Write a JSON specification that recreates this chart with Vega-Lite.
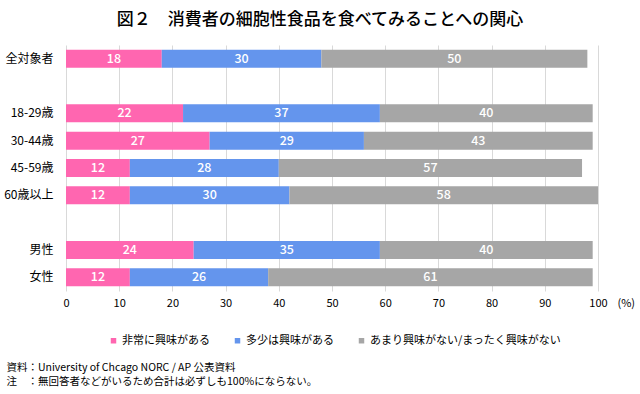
{
  "$schema": "https://vega.github.io/schema/vega-lite/v6.json",
  "width": 532,
  "height": 246,
  "autosize": {"type": "none"},
  "padding": {"left": 66, "top": 45, "right": 42, "bottom": 103},
  "background": "white",
  "config": {
    "view": {"stroke": null},
    "font": "Noto Sans CJK JP",
    "text": {"font": "Noto Sans CJK JP"}
  },
  "title": {
    "text": "図２　消費者の細胞性食品を食べてみることへの関心",
    "fontSize": 17,
    "fontWeight": 500,
    "font": "Noto Sans CJK JP",
    "color": "#000000",
    "anchor": "middle",
    "dx": -12,
    "offset": 16
  },
  "data": {
    "values": [
      {"group": "全対象者", "answer": "非常に興味がある", "k": 1, "value": 18},
      {"group": "全対象者", "answer": "多少は興味がある", "k": 2, "value": 30},
      {"group": "全対象者", "answer": "あまり興味がない/まったく興味がない", "k": 3, "value": 50},
      {"group": "18-29歳", "answer": "非常に興味がある", "k": 1, "value": 22},
      {"group": "18-29歳", "answer": "多少は興味がある", "k": 2, "value": 37},
      {"group": "18-29歳", "answer": "あまり興味がない/まったく興味がない", "k": 3, "value": 40},
      {"group": "30-44歳", "answer": "非常に興味がある", "k": 1, "value": 27},
      {"group": "30-44歳", "answer": "多少は興味がある", "k": 2, "value": 29},
      {"group": "30-44歳", "answer": "あまり興味がない/まったく興味がない", "k": 3, "value": 43},
      {"group": "45-59歳", "answer": "非常に興味がある", "k": 1, "value": 12},
      {"group": "45-59歳", "answer": "多少は興味がある", "k": 2, "value": 28},
      {"group": "45-59歳", "answer": "あまり興味がない/まったく興味がない", "k": 3, "value": 57},
      {"group": "60歳以上", "answer": "非常に興味がある", "k": 1, "value": 12},
      {"group": "60歳以上", "answer": "多少は興味がある", "k": 2, "value": 30},
      {"group": "60歳以上", "answer": "あまり興味がない/まったく興味がない", "k": 3, "value": 58},
      {"group": "男性", "answer": "非常に興味がある", "k": 1, "value": 24},
      {"group": "男性", "answer": "多少は興味がある", "k": 2, "value": 35},
      {"group": "男性", "answer": "あまり興味がない/まったく興味がない", "k": 3, "value": 40},
      {"group": "女性", "answer": "非常に興味がある", "k": 1, "value": 12},
      {"group": "女性", "answer": "多少は興味がある", "k": 2, "value": 26},
      {"group": "女性", "answer": "あまり興味がない/まったく興味がない", "k": 3, "value": 61}
    ]
  },
  "encoding": {
    "y": {
      "field": "group",
      "type": "nominal",
      "scale": {
        "domain": ["全対象者", " ", "18-29歳", "30-44歳", "45-59歳", "60歳以上", "  ", "男性", "女性"],
        "paddingInner": 0.34,
        "paddingOuter": 0.17
      },
      "axis": {
        "title": ["資料：University of Chcago NORC / AP 公表資料", "注　：無回答者などがいるため合計は必ずしも100%にならない。"],
        "titleAngle": 0,
        "titleAlign": "left",
        "titleBaseline": "middle",
        "titleX": -60,
        "titleY": 322,
        "titleFontSize": 10.5,
        "titleFontWeight": "normal",
        "titleColor": "#000000",
        "titleLineHeight": 14,
        "titleFont": "Noto Sans CJK JP",
        "domain": false,
        "ticks": false,
        "labelPadding": 13,
        "labelFontSize": 12,
        "labelColor": "#000000",
        "labelFont": "Noto Sans CJK JP"
      }
    },
    "x": {
      "field": "value",
      "type": "quantitative",
      "stack": "zero",
      "scale": {"domain": [0, 100], "nice": false},
      "axis": {
        "values": [0, 10, 20, 30, 40, 50, 60, 70, 80, 90, 100],
        "title": "(%)",
        "titleX": 551,
        "titleY": 12,
        "titleAlign": "left",
        "titleBaseline": "middle",
        "titleFontSize": 11,
        "titleFontWeight": "normal",
        "titleColor": "#000000",
        "titleFont": "Noto Sans CJK JP",
        "domain": false,
        "ticks": false,
        "grid": true,
        "gridColor": "#d9d9d9",
        "gridWidth": 1,
        "labelPadding": 6,
        "labelFontSize": 11,
        "labelColor": "#000000",
        "labelFont": "Noto Sans CJK JP",
        "labelFlush": false
      }
    },
    "order": {"field": "k", "type": "quantitative", "sort": "ascending"}
  },
  "layer": [
    {
      "mark": {"type": "bar"},
      "encoding": {
        "color": {
          "field": "answer",
          "type": "nominal",
          "sort": ["非常に興味がある", "多少は興味がある", "あまり興味がない/まったく興味がない"],
          "scale": {
            "domain": ["非常に興味がある", "多少は興味がある", "あまり興味がない/まったく興味がない"],
            "range": ["#ff66b0", "#6495ed", "#a6a6a6"]
          },
          "legend": {
            "orient": "none",
            "direction": "horizontal",
            "legendX": 42,
            "legendY": 290,
            "title": null,
            "symbolType": "square",
            "symbolSize": 30,
            "symbolStrokeWidth": 0,
            "labelFontSize": 11,
            "labelColor": "#000000",
            "labelFont": "Noto Sans CJK JP",
            "labelOffset": 3,
            "columnPadding": 22,
            "labelLimit": 400
          }
        }
      }
    },
    {
      "mark": {"type": "text", "color": "white", "fontSize": 12.5, "fontWeight": 500, "baseline": "middle", "align": "center"},
      "encoding": {
        "x": {"field": "value", "type": "quantitative", "stack": "zero", "bandPosition": 0.5},
        "detail": {"field": "answer", "type": "nominal"},
        "text": {"field": "value", "type": "quantitative"}
      }
    }
  ]
}
